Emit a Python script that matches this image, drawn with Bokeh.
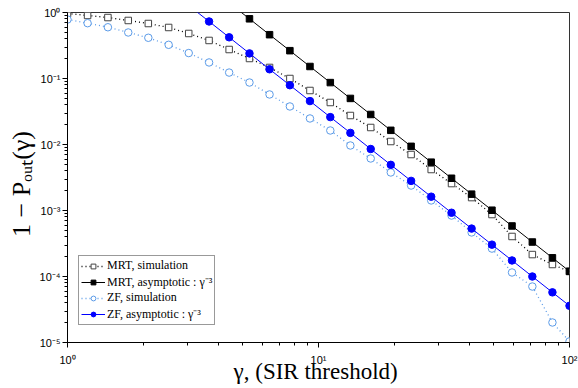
from bokeh.plotting import figure
from bokeh.models import FixedTicker, Legend, LegendItem
from bokeh.embed import file_html
from bokeh.resources import INLINE

# SIR threshold grid (dB) and converted values
gamma_db = [0.0, 0.8, 1.61, 2.42, 3.22, 4.03, 4.83, 5.64, 6.44, 7.25, 8.05, 8.86, 9.66,
            10.47, 11.27, 12.08, 12.88, 13.69, 14.49, 15.30, 16.10, 16.91, 17.71, 18.52,
            19.32, 20.0]
gamma = [10 ** (d / 10.0) for d in gamma_db]

mrt_sim = [0.966, 0.902, 0.839, 0.757, 0.681, 0.593, 0.481, 0.377, 0.275, 0.201, 0.147,
           0.100, 0.0658, 0.0433, 0.0275, 0.0181, 0.0111, 0.00705, 0.00418, 0.00256,
           0.00157, 8.69e-4, 4.04e-4, 2.15e-4, 1.52e-4, 1.19e-4]
mrt_asym = [120, 69, 39.5, 22.6, 13.0, 7.41, 4.26, 2.44, 1.40, 0.802, 0.461, 0.264, 0.152,
            0.0867, 0.0499, 0.0285, 0.0164, 0.00938, 0.00540, 0.00308, 0.00177, 0.00101,
            5.83e-4, 3.33e-4, 1.92e-4, 1.20e-4]
zf_sim = [0.783, 0.689, 0.598, 0.498, 0.414, 0.324, 0.243, 0.175, 0.123, 0.0869, 0.0573,
          0.0377, 0.0248, 0.0163, 0.00966, 0.00614, 0.00377, 0.00239, 0.00142, 8.39e-4,
          4.65e-4, 2.65e-4, 1.15e-4, 7.05e-5, 2.01e-5, 1.04e-5]
zf_asym = [36, 20.7, 11.8, 6.77, 3.89, 2.22, 1.28, 0.731, 0.421, 0.240, 0.138, 0.0791,
           0.0455, 0.0260, 0.0150, 0.00855, 0.00492, 0.00281, 0.00162, 9.25e-4, 5.32e-4,
           3.04e-4, 1.75e-4, 1.00e-4, 5.75e-5, 3.60e-5]

labels = ["MRT, simulation", "MRT, asymptotic : γ⁻³", "ZF, simulation", "ZF, asymptotic : γ⁻³"]
x_ticks = [1, 10, 100]
x_tick_labels = ["10⁰", "10¹", "10²"]
y_ticks = [1e-5, 1e-4, 1e-3, 1e-2, 1e-1, 1]
y_tick_labels = ["10⁻⁵", "10⁻⁴", "10⁻³", "10⁻²", "10⁻¹", "10⁰"]

W, H = 578, 388
p = figure(width=W, height=H, x_axis_type="log", y_axis_type="log",
           x_range=(1, 100), y_range=(1e-5, 1),
           output_backend="svg", toolbar_location=None,
           min_border_left=67, min_border_right=9, min_border_top=12, min_border_bottom=46)
p.xgrid.visible = False
p.ygrid.visible = False
p.outline_line_color = "#333333"
p.outline_line_width = 1
p.background_fill_color = "white"
p.border_fill_color = "white"

def minors(lo, hi):
    out = []
    for e in range(lo, hi):
        for m in range(2, 10):
            out.append(m * 10 ** e)
    return out

p.xaxis.ticker = FixedTicker(ticks=x_ticks, minor_ticks=minors(0, 2))
p.yaxis.ticker = FixedTicker(ticks=y_ticks, minor_ticks=minors(-5, 0))
p.xaxis.major_label_overrides = {t: l for t, l in zip(x_ticks, x_tick_labels)}
p.yaxis.major_label_overrides = {t: l for t, l in zip(y_ticks, y_tick_labels)}

for ax in (p.xaxis[0], p.yaxis[0]):
    ax.axis_line_color = "black"
    ax.major_tick_line_color = "black"
    ax.minor_tick_line_color = "black"
    ax.major_tick_in = 0
    ax.major_tick_out = 5
    ax.minor_tick_in = 0
    ax.minor_tick_out = 3
    ax.major_label_text_font = "Liberation Sans"
    ax.major_label_text_font_size = "11px"
    ax.major_label_text_color = "black"
    ax.axis_label_text_font = "Liberation Serif"
    ax.axis_label_text_font_style = "normal"
    ax.axis_label_text_color = "black"

p.xaxis.major_label_standoff = 6
p.yaxis.major_label_standoff = 2
p.xaxis.axis_label = "γ,  (SIR threshold)"
p.xaxis.axis_label_text_font_size = "23px"
p.xaxis.axis_label_standoff = -10
p.yaxis.axis_label = "1  −  Pₒᵤₜ(γ)"
p.yaxis.axis_label_text_font_size = "26px"
p.yaxis.axis_label_standoff = 1

r1 = p.line(gamma, mrt_sim, line_color="black", line_dash="1 3", line_width=1.3)
r1m = p.scatter(gamma, mrt_sim, marker="square", size=6.5, fill_color="white",
                line_color="#444444", line_width=1)
r2 = p.line(gamma, mrt_asym, line_color="black", line_width=1)
r2m = p.scatter(gamma, mrt_asym, marker="square", size=6.5, fill_color="black",
                line_color="black")
r3 = p.line(gamma, zf_sim, line_color="#5b9be8", line_dash="1 3", line_width=1.3)
r3m = p.scatter(gamma, zf_sim, marker="circle", size=7.5, fill_color="white",
                line_color="#5b9be8", line_width=1)
r4 = p.line(gamma, zf_asym, line_color="#0000ff", line_width=1)
r4m = p.scatter(gamma, zf_asym, marker="circle", size=7.5, fill_color="#0000ff",
                line_color="#0000ff")

legend = Legend(items=[LegendItem(label=labels[0], renderers=[r1, r1m]),
                       LegendItem(label=labels[1], renderers=[r2, r2m]),
                       LegendItem(label=labels[2], renderers=[r3, r3m]),
                       LegendItem(label=labels[3], renderers=[r4, r4m])],
                location=(11, 17))
legend.label_text_font = "Liberation Serif"
legend.label_text_font_size = "12px"
legend.label_text_line_height = 1.0
legend.label_text_color = "black"
legend.glyph_width = 24
legend.glyph_height = 12
legend.label_height = 12
legend.label_standoff = 2
legend.spacing = 0
legend.padding = 2
legend.margin = 0
legend.border_line_color = "#333333"
legend.border_line_width = 1
p.add_layout(legend)

open("out.html", "w").write(file_html(p, INLINE))
